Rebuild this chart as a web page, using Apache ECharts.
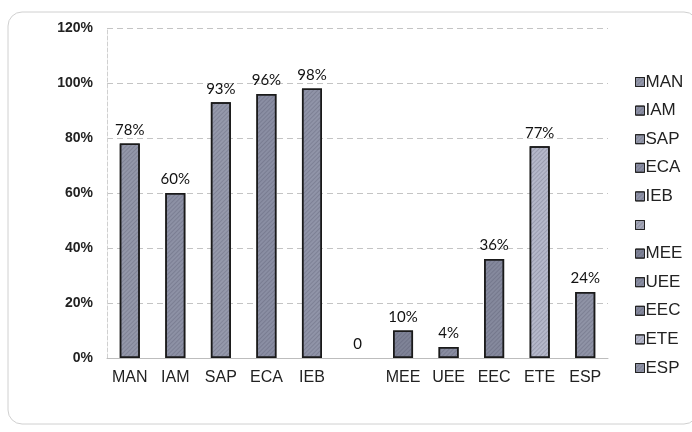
<!DOCTYPE html>
<html>
<head>
<meta charset="utf-8">
<script src="https://cdn.jsdelivr.net/npm/echarts@6/dist/echarts.min.js"></script>
<style>
  html, body { margin: 0; padding: 0; background: #fff; }
  #chart { width: 692px; height: 432px; }
</style>
</head>
<body>
<div id="chart"></div>
<script>
// category names (blank slot between the two groups, as in the sheet)
const categories = ["MAN", "IAM", "SAP", "ECA", "IEB", "", "MEE", "UEE", "EEC", "ETE", "ESP"];
// percent values
const values = [78, 60, 93, 96, 98, 0, 10, 4, 36, 77, 24];
// y axis ticks
const yTicks = [0, 20, 40, 60, 80, 100, 120];

// gray-blue fills of the scanned hatch pattern
const fills = ["#9397a9", "#8d91a5", "#9599ab", "#8a8ea3", "#9094a8", "#a5a8b8",
  "#7f8397", "#898da1", "#85899d", "#b5b8ca", "#8f93a6"];

const chart = echarts.init(document.getElementById("chart"));

const series = categories.map((name, i) => {
  let data = categories.map(() => null);
  data[i] = values[i];
  return {
    name: name === "" ? " " : name,
    type: "bar",
    stack: "all",
    barWidth: 20,
    data: data,
    itemStyle: {
      color: fills[i],
      borderColor: "#1a1a1a",
      borderWidth: values[i] === 0 ? 0 : 1.5,
      decal: {
        symbol: "rect",
        dashArrayX: [1, 0],
        dashArrayY: [1, 2],
        rotation: -Math.PI / 4,
        color: "rgba(60,60,80,0.22)"
      }
    },
    label: {
      show: true,
      position: "top",
      distance: 6,
      fontFamily: "Lato",
      fontSize: 15,
      color: "#111",
      formatter: (p) => (p.value === 0 ? "0" : p.value + "%")
    }
  };
});

chart.setOption({
  animation: false,
  backgroundColor: "#fff",
  graphic: [{
    type: "rect",
    shape: { x: 8, y: 12, width: 690, height: 412, r: 14 },
    style: { fill: "none", stroke: "#d0d0d0", lineWidth: 1 },
    silent: true
  }],
  grid: { left: 107, right: 84, top: 28, bottom: 74 },
  legend: {
    orient: "vertical",
    left: 630,
    top: 68,
    itemWidth: 9,
    itemHeight: 9,
    itemGap: 10.6,
    icon: "rect",
    itemStyle: { borderColor: "#222", borderWidth: 1 },
    textStyle: {
      fontFamily: "Liberation Sans",
      fontSize: 17,
      lineHeight: 18,
      color: "#222",
      padding: [0, 0, 0, -4]
    },
    data: series.map((s) => s.name)
  },
  xAxis: {
    type: "category",
    data: categories,
    axisTick: { show: false },
    axisLine: { lineStyle: { color: "#bdbdbd", width: 1 } },
    axisLabel: {
      interval: 0,
      margin: 12,
      fontFamily: "Liberation Sans",
      fontSize: 16,
      color: "#222"
    }
  },
  yAxis: {
    type: "value",
    min: 0,
    max: 120,
    interval: 20,
    axisLine: { show: true, lineStyle: { color: "#d0d0d0", type: "dashed" } },
    axisTick: { show: false },
    splitLine: { lineStyle: { color: "#c4c4c4", type: [6, 4] } },
    axisLabel: {
      margin: 14,
      fontFamily: "Liberation Sans",
      fontSize: 14,
      fontWeight: "bold",
      color: "#222",
      formatter: (v) => (yTicks.indexOf(v) >= 0 ? v + "%" : "")
    }
  },
  series: series
});
</script>
</body>
</html>
